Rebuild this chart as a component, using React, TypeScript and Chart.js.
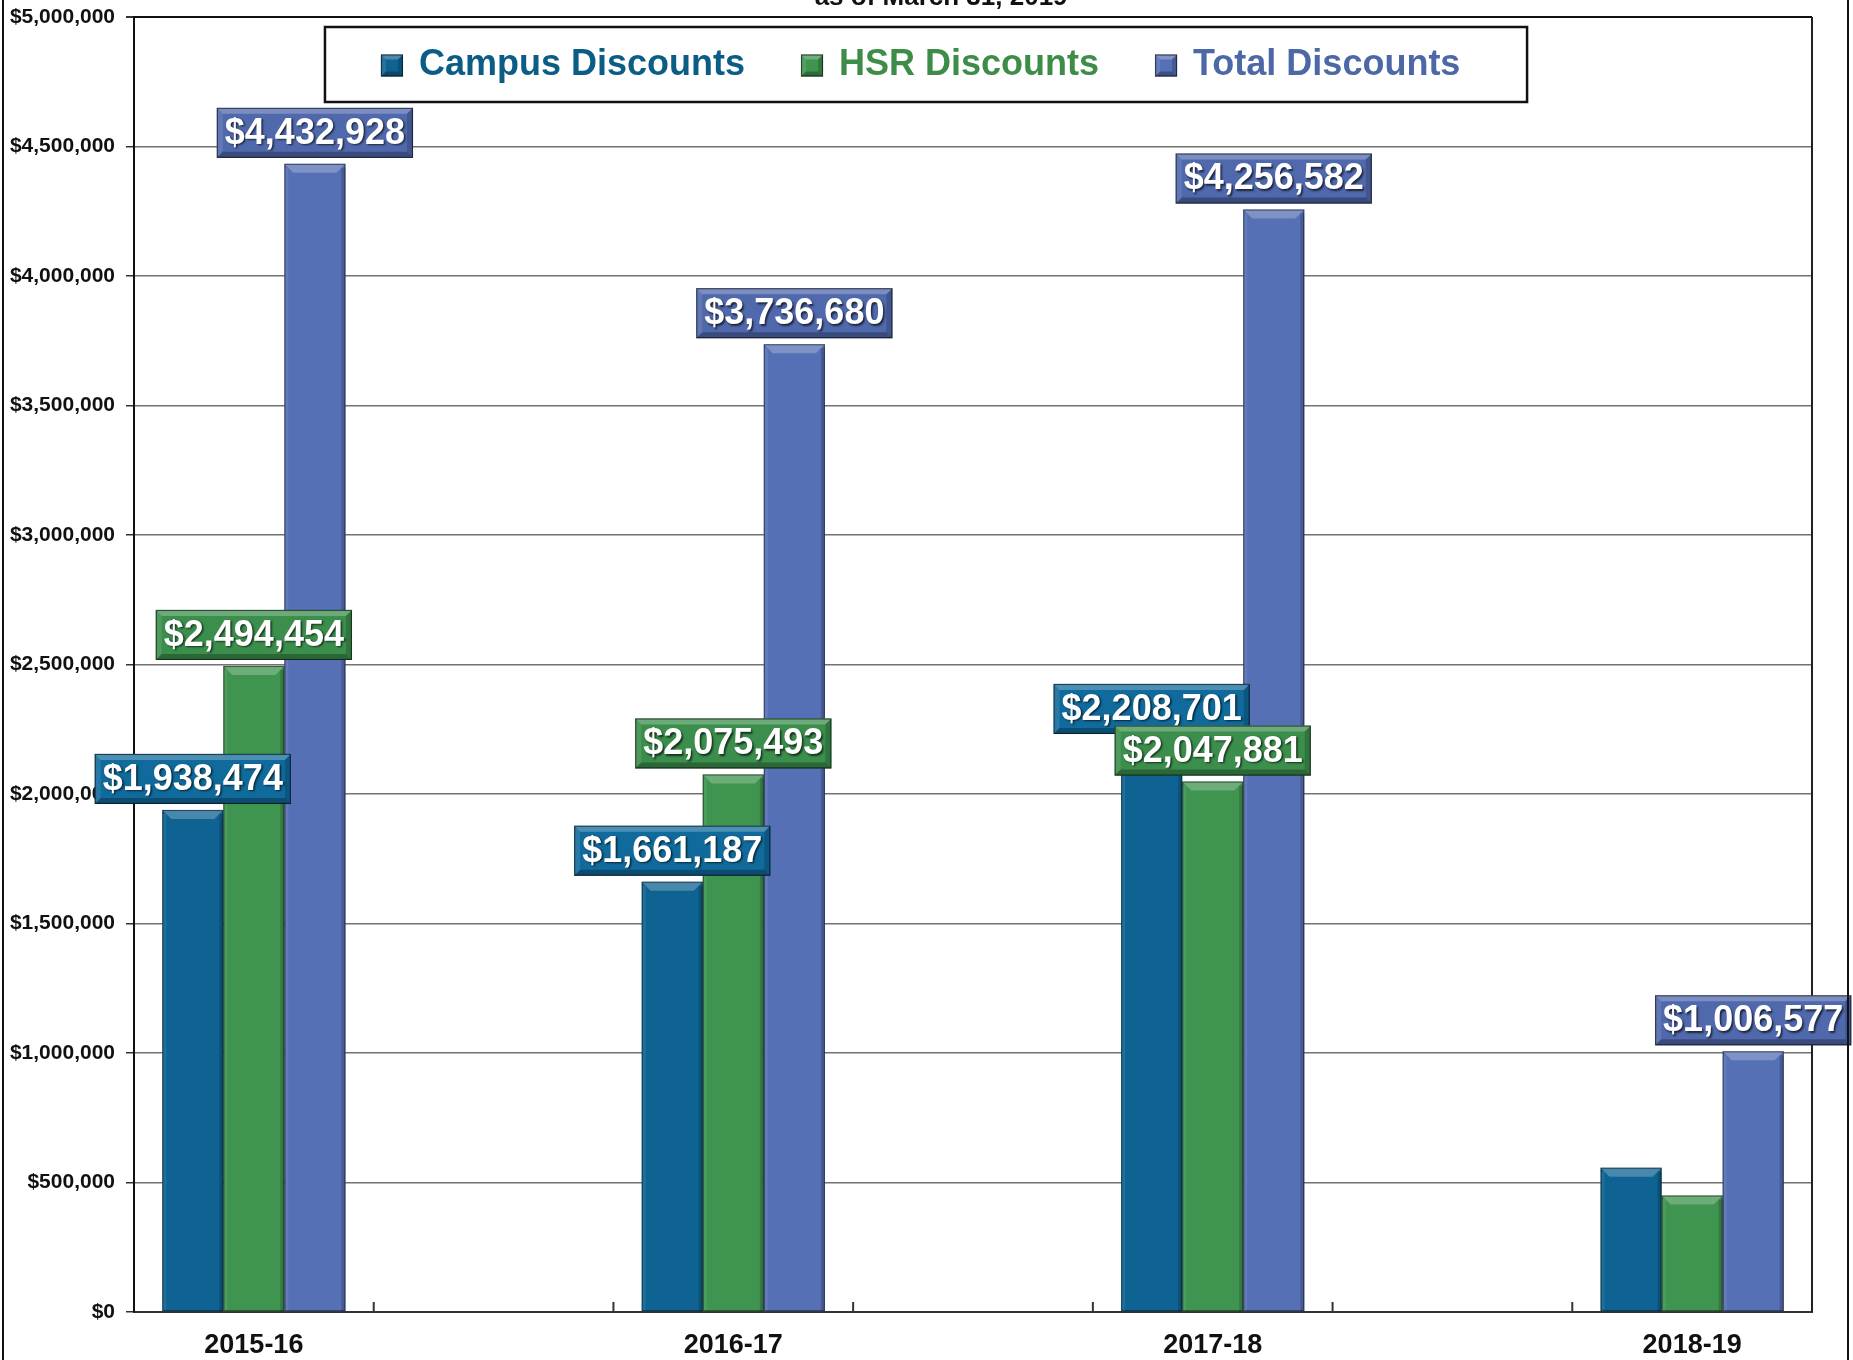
import React, { useEffect, useRef } from "react";
import { Chart, registerables } from "chart.js";

Chart.register(...registerables);

// ---------- data ----------
const categories = ["2015-16", "2016-17", "2017-18", "2018-19"];
const seriesNames = ["Campus Discounts", "HSR Discounts", "Total Discounts"];
const campusDiscounts = [1938474, 1661187, 2208701, 557000];
const hsrDiscounts = [2494454, 2075493, 2047881, 449577];
const totalDiscounts = [4432928, 3736680, 4256582, 1006577];
const campusLabelShown = [true, true, true, false];
const hsrLabelShown = [true, true, true, false];
const totalLabelShown = [true, true, true, true];
const yMin = 0;
const yMax = 5000000;
const yStep = 500000;
const titleText = "as of March 31, 2019";

// ---------- styles ----------
const FONT = "'Liberation Sans', Arial, Helvetica, sans-serif";
const barColors = ["#0e6392", "#3f9450", "#5670b5"];
const boxColors = ["#106a9b", "#3b8e4c", "#5069ad"];
const legendTextColors = ["#0b5d85", "#3d8d48", "#4d68a6"];

function fmtMoney(v: number): string {
  return "$" + Math.round(v).toLocaleString("en-US");
}

function bevelBox(ctx: CanvasRenderingContext2D, x: number, y: number, w: number, h: number, color: string, d: number) {
  ctx.save();
  ctx.fillStyle = color;
  ctx.fillRect(x, y, w, h);
  ctx.fillStyle = "rgba(255,255,255,0.25)";
  ctx.beginPath();
  ctx.moveTo(x, y);
  ctx.lineTo(x + w, y);
  ctx.lineTo(x + w - d, y + d);
  ctx.lineTo(x + d, y + d);
  ctx.closePath();
  ctx.fill();
  ctx.fillStyle = "rgba(255,255,255,0.10)";
  ctx.beginPath();
  ctx.moveTo(x, y);
  ctx.lineTo(x + d, y + d);
  ctx.lineTo(x + d, y + h - d);
  ctx.lineTo(x, y + h);
  ctx.closePath();
  ctx.fill();
  ctx.fillStyle = "rgba(0,0,0,0.18)";
  ctx.beginPath();
  ctx.moveTo(x + w, y);
  ctx.lineTo(x + w - d, y + d);
  ctx.lineTo(x + w - d, y + h - d);
  ctx.lineTo(x + w, y + h);
  ctx.closePath();
  ctx.fill();
  ctx.fillStyle = "rgba(0,0,0,0.28)";
  ctx.beginPath();
  ctx.moveTo(x, y + h);
  ctx.lineTo(x + d, y + h - d);
  ctx.lineTo(x + w - d, y + h - d);
  ctx.lineTo(x + w, y + h);
  ctx.closePath();
  ctx.fill();
  ctx.strokeStyle = "rgba(0,0,0,0.55)";
  ctx.lineWidth = 1.2;
  ctx.strokeRect(x + 0.5, y + 0.5, w - 1, h - 1);
  ctx.restore();
}

const decorPlugin = {
  id: "decor",
  beforeDatasetsDraw(chart: any) {
    const { ctx, chartArea: ca } = chart;
    const xs = chart.scales.x;
    ctx.save();
    ctx.strokeStyle = "#222";
    ctx.lineWidth = 2;
    ctx.beginPath();
    ctx.moveTo(ca.right, ca.top);
    ctx.lineTo(ca.right, ca.bottom);
    ctx.stroke();
    ctx.strokeStyle = "#333";
    ctx.lineWidth = 2;
    for (let v = xs.min + 0.5; v < xs.max - 0.01; v += 0.5) {
      const px = xs.getPixelForValue(v);
      ctx.beginPath();
      ctx.moveTo(px, ca.bottom);
      ctx.lineTo(px, ca.bottom - 10);
      ctx.stroke();
    }
    ctx.restore();
  },
  afterDatasetsDraw(chart: any) {
    const { ctx } = chart;
    chart.data.datasets.forEach((_ds: any, i: number) => {
      const meta = chart.getDatasetMeta(i);
      meta.data.forEach((el: any) => {
        const w = el.width;
        const x = el.x - w / 2;
        const top = Math.min(el.y, el.base);
        const h = Math.abs(el.base - el.y);
        const d = 9;
        ctx.save();
        ctx.fillStyle = "rgba(255,255,255,0.24)";
        ctx.beginPath();
        ctx.moveTo(x, top);
        ctx.lineTo(x + w, top);
        ctx.lineTo(x + w - d, top + d);
        ctx.lineTo(x + d, top + d);
        ctx.closePath();
        ctx.fill();
        ctx.fillStyle = "rgba(0,0,0,0.18)";
        ctx.fillRect(x + w - 4, top + 4, 4, h - 4);
        ctx.fillStyle = "rgba(255,255,255,0.08)";
        ctx.fillRect(x, top + 4, 4, h - 4);
        ctx.strokeStyle = "rgba(0,0,0,0.45)";
        ctx.lineWidth = 1.2;
        ctx.strokeRect(x + 0.5, top + 0.5, w - 1, h - 1);
        ctx.restore();
      });
    });
  },
  afterDraw(chart: any) {
    const { ctx, chartArea: ca } = chart;
    const shownSets = [campusLabelShown, hsrLabelShown, totalLabelShown];
    ctx.save();
    ctx.font = `bold 36px ${FONT}`;
    ctx.textAlign = "center";
    ctx.textBaseline = "middle";
    chart.data.datasets.forEach((ds: any, i: number) => {
      const meta = chart.getDatasetMeta(i);
      meta.data.forEach((el: any, j: number) => {
        if (!shownSets[i][j]) return;
        const txt = fmtMoney(ds.data[j].y);
        const tw = ctx.measureText(txt).width;
        const bw = tw + 16;
        const bh = 50;
        const bx = el.x - bw / 2;
        const by = el.y - 6 - bh;
        bevelBox(ctx, bx, by, bw, bh, boxColors[i], 6);
        ctx.save();
        ctx.shadowColor = "rgba(0,0,0,0.65)";
        ctx.shadowOffsetX = 1.5;
        ctx.shadowOffsetY = 1.5;
        ctx.shadowBlur = 2;
        ctx.fillStyle = "#ffffff";
        ctx.fillText(txt, el.x, by + bh / 2 + 1);
        ctx.restore();
      });
    });
    ctx.restore();

    // legend box
    const lx = ca.left + 0.1138 * ca.width;
    const lr = ca.left + 0.8302 * ca.width;
    const ly = ca.top + 10;
    const lh = 75;
    ctx.save();
    ctx.fillStyle = "#ffffff";
    ctx.fillRect(lx, ly, lr - lx, lh);
    ctx.strokeStyle = "#111";
    ctx.lineWidth = 2.5;
    ctx.strokeRect(lx, ly, lr - lx, lh);
    ctx.font = `bold 36px ${FONT}`;
    ctx.textBaseline = "middle";
    ctx.textAlign = "left";
    let cx = lx + 56;
    const cy = ly + lh / 2 + 1;
    chart.data.datasets.forEach((ds: any, i: number) => {
      bevelBox(ctx, cx, cy - 11, 22, 22, barColors[i], 5);
      ctx.fillStyle = legendTextColors[i];
      ctx.fillText(ds.label, cx + 38, cy);
      cx += 38 + ctx.measureText(ds.label).width + 56;
    });
    ctx.restore();

    // partially visible title at the very top
    ctx.save();
    ctx.font = `bold 26px ${FONT}`;
    ctx.fillStyle = "#111";
    ctx.textAlign = "center";
    ctx.textBaseline = "alphabetic";
    ctx.fillText(titleText, ca.left + 0.481 * ca.width, 5);
    ctx.restore();

    // outer frame sides
    ctx.save();
    ctx.strokeStyle = "#111";
    ctx.lineWidth = 2;
    ctx.beginPath();
    ctx.moveTo(3, 0);
    ctx.lineTo(3, chart.height);
    ctx.moveTo(chart.width - 5, 0);
    ctx.lineTo(chart.width - 5, chart.height);
    ctx.stroke();
    ctx.restore();
  },
};

export default function App() {
  const ref = useRef<HTMLCanvasElement | null>(null);

  useEffect(() => {
    document.body.style.margin = "0";
    const canvas = ref.current;
    if (!canvas) return;
    const toPoints = (arr: number[]) => arr.map((v, i) => ({ x: i, y: v }));
    const chart = new Chart(canvas, {
      type: "bar",
      data: {
        datasets: [
          { label: seriesNames[0], data: toPoints(campusDiscounts), backgroundColor: barColors[0] },
          { label: seriesNames[1], data: toPoints(hsrDiscounts), backgroundColor: barColors[1] },
          { label: seriesNames[2], data: toPoints(totalDiscounts), backgroundColor: barColors[2] },
        ] as any,
      },
      options: {
        responsive: false,
        animation: false,
        devicePixelRatio: 1,
        layout: { padding: { left: 0, right: 41, top: 17, bottom: 0 } },
        datasets: { bar: { categoryPercentage: 0.382, barPercentage: 1.0, borderWidth: 0 } } as any,
        plugins: {
          legend: { display: false },
          title: { display: false },
          tooltip: { enabled: false },
        },
        scales: {
          x: {
            type: "linear",
            min: -0.25,
            max: 3.25,
            offset: false,
            ticks: {
              stepSize: 1,
              includeBounds: false,
              autoSkip: false,
              maxRotation: 0,
              padding: 17,
              color: "#111",
              font: { family: FONT, size: 27, weight: "bold" },
              callback: (v: any) => (Number.isInteger(Number(v)) ? categories[Number(v)] ?? "" : ""),
            },
            grid: { display: false, drawTicks: false },
            border: { display: true, color: "#333", width: 2 },
            afterFit: (s: any) => {
              s.height = 48;
              s.paddingLeft = 0;
              s.paddingRight = 0;
            },
          } as any,
          y: {
            min: yMin,
            max: yMax,
            ticks: {
              stepSize: yStep,
              padding: 11,
              color: "#111",
              font: { family: FONT, size: 21, weight: "bold" },
              callback: (v: any) => fmtMoney(Number(v)),
            },
            grid: {
              color: (c: any) => (c.tick && c.tick.value === yMax ? "#111" : "#727272"),
              lineWidth: (c: any) => (c.tick && c.tick.value === yMax ? 2 : 1.5),
              tickLength: 8,
              tickColor: "#333",
              drawTicks: true,
            },
            border: { display: true, color: "#111", width: 2 },
            afterFit: (s: any) => {
              s.width = 134;
              s.paddingTop = 0;
              s.paddingBottom = 0;
            },
          } as any,
        },
      },
      plugins: [decorPlugin],
    });
    return () => chart.destroy();
  }, []);

  return (
    <div style={{ width: 1853, height: 1360, background: "#fff" }}>
      <canvas ref={ref} width={1853} height={1360} style={{ display: "block" }} />
    </div>
  );
}
